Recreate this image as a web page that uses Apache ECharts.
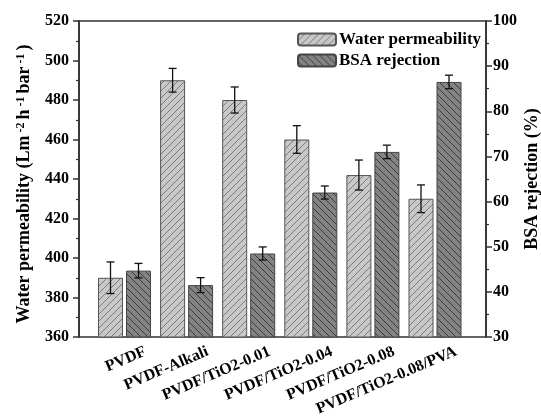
<!DOCTYPE html>
<html>
<head>
<meta charset="utf-8">
<script src="https://cdn.jsdelivr.net/npm/echarts@6/dist/echarts.min.js"></script>
<style>html,body{margin:0;padding:0;background:#fff}#c{width:541px;height:420px}</style>
</head>
<body>
<div id="c"></div>
<script>
const categories = ['PVDF', 'PVDF-Alkali', 'PVDF/TiO2-0.01', 'PVDF/TiO2-0.04', 'PVDF/TiO2-0.08', 'PVDF/TiO2-0.08/PVA'];
const water = [390, 490, 480, 460, 442, 430];
const waterErr = [8, 6, 6.6, 7, 7.6, 7];
const bsa = [44.7, 41.5, 48.5, 62, 71, 86.5];
const bsaErr = [1.6, 1.65, 1.45, 1.45, 1.5, 1.5];
const leftTicks = {min: 360, max: 520, interval: 20};
const rightTicks = {min: 30, max: 100, interval: 10};

const FONT = 'Liberation Serif';
const BAR_W = 25, BAR_GAP = 3;
const OFF = (BAR_W + BAR_GAP) / 2;

function makePattern(bg, line, dir) {
  const s = 7;
  const c = document.createElement('canvas');
  c.width = s; c.height = s;
  const ctx = c.getContext('2d');
  ctx.fillStyle = bg; ctx.fillRect(0, 0, s, s);
  ctx.strokeStyle = line; ctx.lineWidth = 1;
  ctx.beginPath();
  if (dir === '/') {
    ctx.moveTo(0, s); ctx.lineTo(s, 0);
    ctx.moveTo(-1, 1); ctx.lineTo(1, -1);
    ctx.moveTo(s - 1, s + 1); ctx.lineTo(s + 1, s - 1);
  } else {
    ctx.moveTo(0, 0); ctx.lineTo(s, s);
    ctx.moveTo(-1, s - 1); ctx.lineTo(1, s + 1);
    ctx.moveTo(s - 1, -1); ctx.lineTo(s + 1, 1);
  }
  ctx.stroke();
  return {image: c, repeat: 'repeat'};
}

const lightPat = makePattern('#c8c8c8', '#7c7c7c', '/');
const darkPat = makePattern('#838383', '#3c3c3c', '\\');

const chart = echarts.init(document.getElementById('c'), null, {renderer: 'canvas'});

function errRender(shift) {
  return function (params, api) {
    const i = api.value(0);
    const v = api.value(1), e = api.value(2);
    const top = api.coord([i, v + e]);
    const bot = api.coord([i, v - e]);
    const x = top[0] + shift;
    const cap = 4;
    const st = {stroke: '#111', lineWidth: 1.3};
    return {
      type: 'group',
      children: [
        {type: 'line', shape: {x1: x, y1: top[1], x2: x, y2: bot[1]}, style: st},
        {type: 'line', shape: {x1: x - cap, y1: top[1], x2: x + cap, y2: top[1]}, style: st},
        {type: 'line', shape: {x1: x - cap, y1: bot[1], x2: x + cap, y2: bot[1]}, style: st}
      ]
    };
  };
}

const tickStyle = {fontFamily: FONT, fontWeight: 'bold', fontSize: 16, color: '#000'};
const axisCol = '#333';

const option = {
  animation: false,
  backgroundColor: '#fff',
  grid: [
    {left: 79, right: 55, top: 21, bottom: 83, outerBoundsMode: 'none', containLabel: false, show: true, borderColor: axisCol, borderWidth: 1.6, backgroundColor: 'transparent'},
    {left: 93.45, right: 74.95, top: 21, bottom: 83, outerBoundsMode: 'none', containLabel: false},
    {left: 114.45, right: 53.95, top: 21, bottom: 83, outerBoundsMode: 'none', containLabel: false}
  ],
  legend: {
    orient: 'vertical',
    left: 292, top: 26,
    itemWidth: 38, itemHeight: 12, itemGap: 4,
    textStyle: {fontFamily: FONT, fontWeight: 'bold', fontSize: 17, color: '#000', padding: [0, 0, 0, -2]},
    data: ['Water permeability', 'BSA rejection']
  },
  xAxis: [
    {gridIndex: 0, type: 'value', min: 0, max: 1, show: false},
    {gridIndex: 1, type: 'category', data: categories, axisLine: {show: false}, axisTick: {show: false}, axisLabel: {show: false}},
    {gridIndex: 2, type: 'category', data: categories, axisLine: {show: false}, axisTick: {show: false},
      axisLabel: Object.assign({rotate: 23, margin: 14, interval: 0}, tickStyle)}
  ],
  yAxis: [
    {gridIndex: 0, type: 'value', min: 0, max: 1, show: false},
    {gridIndex: 1, type: 'value', position: 'left', offset: 14.45,
      min: leftTicks.min, max: leftTicks.max, interval: leftTicks.interval,
      name: '{b|Water permeability (Lm}{s|-2}{b|h}{s|-1}{b|bar}{s|-1}{b|)}',
      nameLocation: 'middle', nameGap: 46,
      nameTextStyle: {padding: [0, 10, 0, 0], rich: {
        b: {fontFamily: FONT, fontWeight: 'bold', fontSize: 18, color: '#000'},
        s: {fontFamily: FONT, fontWeight: 'bold', fontSize: 12, color: '#000', verticalAlign: 'top', padding: [0, 3, 0, 3]}
      }},
      axisLine: {show: true, lineStyle: {color: axisCol, width: 1.6}},
      axisTick: {show: true, length: 6, lineStyle: {color: axisCol, width: 1.5}},
      minorTick: {show: true, splitNumber: 2, length: 3, lineStyle: {color: axisCol, width: 1.2}},
      splitLine: {show: false},
      axisLabel: Object.assign({margin: 10}, tickStyle)
    },
    {gridIndex: 1, type: 'value', position: 'right', offset: 19.95,
      min: rightTicks.min, max: rightTicks.max, interval: rightTicks.interval,
      name: 'BSA rejection (%)', nameLocation: 'middle', nameGap: 37, nameMoveOverlap: false,
      nameTextStyle: {fontFamily: FONT, fontWeight: 'bold', fontSize: 18, color: '#000'},
      axisLine: {show: true, lineStyle: {color: axisCol, width: 1.6}},
      axisTick: {show: true, length: 6, lineStyle: {color: axisCol, width: 1.5}},
      minorTick: {show: true, splitNumber: 2, length: 3, lineStyle: {color: axisCol, width: 1.2}},
      splitLine: {show: false},
      axisLabel: Object.assign({margin: 7}, tickStyle)
    },
    {gridIndex: 2, type: 'value', show: false}
  ],
  series: [
    {name: 'Water permeability', type: 'bar', xAxisIndex: 1, yAxisIndex: 1, data: water,
      barWidth: BAR_W, barGap: (BAR_GAP / BAR_W * 100) + '%',
      itemStyle: {color: lightPat, borderColor: '#555', borderWidth: 1}},
    {name: 'BSA rejection', type: 'bar', xAxisIndex: 1, yAxisIndex: 2, data: bsa,
      barWidth: BAR_W, barGap: (BAR_GAP / BAR_W * 100) + '%',
      itemStyle: {color: darkPat, borderColor: '#444', borderWidth: 1}},
    {type: 'custom', xAxisIndex: 1, yAxisIndex: 1, z: 5,
      renderItem: errRender(-OFF),
      data: water.map((v, i) => [i, v, waterErr[i]])},
    {type: 'custom', xAxisIndex: 1, yAxisIndex: 2, z: 5,
      renderItem: errRender(OFF),
      data: bsa.map((v, i) => [i, v, bsaErr[i]])}
  ]
};
chart.setOption(option);
</script>
</body>
</html>
